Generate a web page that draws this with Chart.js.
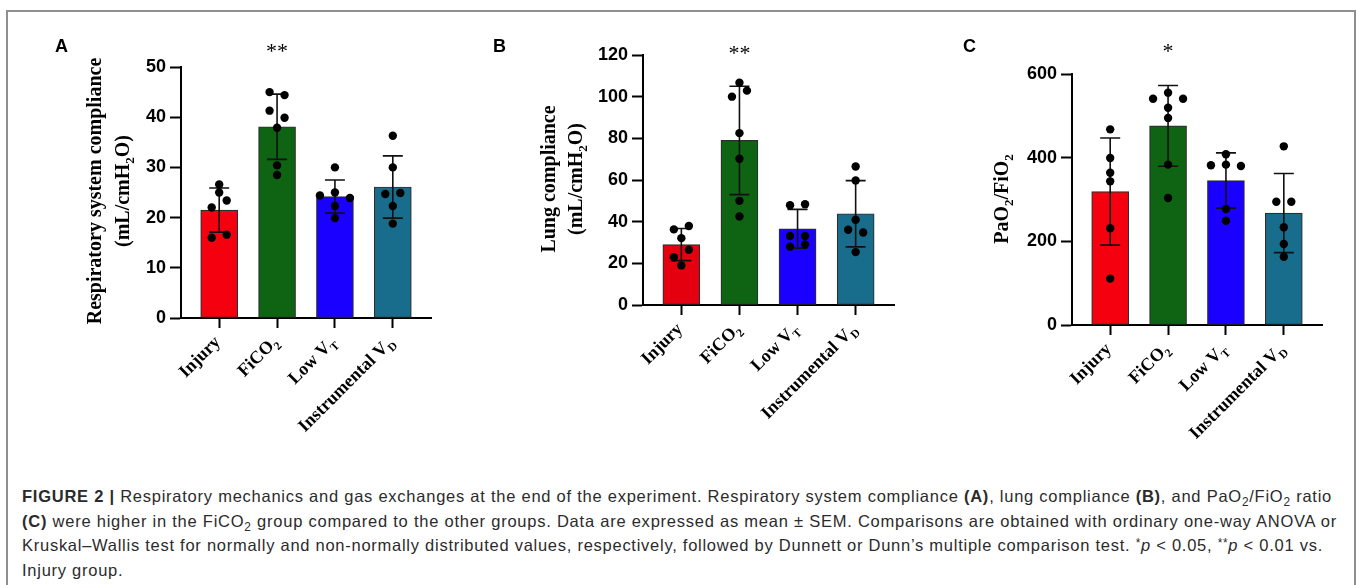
<!DOCTYPE html>
<html>
<head>
<meta charset="utf-8">
<script src="https://cdn.jsdelivr.net/npm/chart.js@4.4.1/dist/chart.umd.min.js"></script>
<style>
  body { margin: 0; background: #fff; width: 1357px; height: 585px; overflow: hidden; position: relative; }
  #frame { position: absolute; left: 6px; top: 10px; width: 1350px; height: 640px; border: 2px solid #8f8f8f; box-sizing: border-box; }
  canvas.panel { position: absolute; top: 0; }
  #caption { position: absolute; left: 22px; top: 484px; font: 16.5px 'Liberation Sans', Arial, sans-serif; color: #2b2b2b; line-height: 24.5px; }
  #caption .ln { white-space: nowrap; display: block; }
  #caption .ln span.fit { display: inline-block; }
  #caption sub { font-size: 0.72em; vertical-align: -0.3em; line-height: 0; }
  #caption sup { font-size: 0.72em; vertical-align: 0.35em; line-height: 0; }
</style>
</head>
<body>
<div id="frame"></div>
<canvas id="chartA" class="panel" width="460" height="450" style="left:0px"></canvas>
<canvas id="chartB" class="panel" width="460" height="450" style="left:460px"></canvas>
<canvas id="chartC" class="panel" width="437" height="450" style="left:920px"></canvas>

<div id="caption">
  <div class="ln"><span class="fit"><b>FIGURE 2 |</b> Respiratory mechanics and gas exchanges at the end of the experiment. Respiratory system compliance <b>(A)</b>, lung compliance <b>(B)</b>, and PaO<sub>2</sub>/FiO<sub>2</sub> ratio</span></div>
  <div class="ln"><span class="fit"><b>(C)</b> were higher in the FiCO<sub>2</sub> group compared to the other groups. Data are expressed as mean ± SEM. Comparisons are obtained with ordinary one-way ANOVA or</span></div>
  <div class="ln"><span class="fit">Kruskal–Wallis test for normally and non-normally distributed values, respectively, followed by Dunnett or Dunn’s multiple comparison test. <sup>*</sup><i>p</i> &lt; 0.05, <sup>**</sup><i>p</i> &lt; 0.01 vs.</span></div>
  <div class="ln"><span class="fit">Injury group.</span></div>
</div>

<script>
// groups, "_x" marks a subscript character
const categories = ['Injury', 'FiCO_2', 'Low V_T', 'Instrumental V_D'];

// A: respiratory system compliance (mL/cmH2O)
const rsMean = [21.5, 38.1, 24.2, 26.1];
const rsSd = [4.4, 6.5, 3.3, 6.2];
const rsPoints = [
  [26.6, 25.0, 23.4, 22.0, 16.6, 16.0],
  [44.4, 45.0, 39.9, 41.3, 37.9, 30.4, 28.5],
  [30.0, 25.0, 24.4, 23.9, 22.3, 19.9],
  [36.3, 30.0, 24.9, 24.7, 22.3, 18.8]
];
const rsTicks = [0, 10, 20, 30, 40, 50];
const rsStars = ['', '**', '', ''];

// B: lung compliance (mL/cmH2O)
const lungMean = [29.0, 79.0, 36.6, 43.8];
const lungSd = [7.7, 26.0, 9.3, 15.9];
const lungPoints = [
  [37.9, 36.3, 32.1, 26.5, 22.9, 19.0],
  [106.7, 102.9, 100.0, 82.5, 70.2, 50.0, 42.5],
  [48.4, 47.9, 33.1, 33.1, 29.1, 28.0],
  [66.5, 59.8, 40.9, 34.8, 36.1, 25.4]
];
const lungTicks = [0, 20, 40, 60, 80, 100, 120];
const lungStars = ['', '**', '', ''];

// C: PaO2/FiO2
const pfMean = [319, 476, 345.5, 267.5];
const pfSd = [128, 96.5, 66, 94.5];
const pfPoints = [
  [467.7, 399.2, 364.1, 343.4, 231.1, 110.8],
  [555.4, 541.0, 541.0, 519.5, 494.8, 383.3, 303.6],
  [408.0, 383.3, 381.7, 380.1, 277.3, 249.4],
  [427.1, 294.8, 294.8, 233.5, 193.6, 163.3]
];
const pfTicks = [0, 200, 400, 600];
const pfStars = ['', '*', '', ''];

const SERIF = "'Liberation Serif', 'Times New Roman', serif";
const SANS = "'Liberation Sans', Arial, sans-serif";
const groupColors = ['#f5000e', '#0e6413', '#1a00fe', '#196d8c'];
const DOT_STEP = 15;   // px between dots sharing a row
const ROW_GAP = 7.6;   // px, dots closer than this share a row

function parseRich(str) {
  const segs = [];
  str.split(/(_\w)/).forEach(p => {
    if (!p) return;
    if (p[0] === '_') segs.push({ t: p.slice(1), sub: true });
    else segs.push({ t: p, sub: false });
  });
  return segs;
}

function drawRich(ctx, str, x, y, size, align) {
  const segs = parseRich(str);
  const fontFor = s => `bold ${s.sub ? size * 0.65 : size}px ${SERIF}`;
  let w = 0;
  segs.forEach(s => { ctx.font = fontFor(s); s.w = ctx.measureText(s.t).width; w += s.w; });
  let cx = align === 'right' ? x - w : align === 'center' ? x - w / 2 : x;
  ctx.textAlign = 'left';
  segs.forEach(s => {
    ctx.font = fontFor(s);
    ctx.fillText(s.t, cx, y + (s.sub ? size * 0.26 : 0));
    cx += s.w;
  });
}

const errorBars = {
  id: 'errorBars',
  afterDatasetDraw(chart, args, opts) {
    if (args.index !== 0) return;
    const { ctx } = chart;
    const x = chart.scales.x, y = chart.scales.y;
    ctx.save();
    ctx.strokeStyle = '#111';
    ctx.lineWidth = 1.6;
    opts.mean.forEach((m, i) => {
      const px = x.getPixelForValue(i);
      const top = y.getPixelForValue(m + opts.sd[i]);
      const bot = y.getPixelForValue(m - opts.sd[i]);
      ctx.beginPath();
      ctx.moveTo(px, top); ctx.lineTo(px, bot);
      ctx.moveTo(px - 10, top); ctx.lineTo(px + 10, top);
      ctx.moveTo(px - 10, bot); ctx.lineTo(px + 10, bot);
      ctx.stroke();
    });
    ctx.restore();
  }
};

const panelText = {
  id: 'panelText',
  afterDraw(chart, args, opts) {
    const { ctx, chartArea } = chart;
    const x = chart.scales.x;
    ctx.save();
    ctx.fillStyle = '#000';
    ctx.textBaseline = 'alphabetic';

    // panel letter
    ctx.font = `bold 18px ${SANS}`;
    ctx.textAlign = 'left';
    ctx.fillText(opts.letter, opts.letterX, 52);

    // y title, rotated
    opts.title.forEach((line, i) => {
      ctx.save();
      ctx.translate(opts.titleX[i], opts.titleY);
      ctx.rotate(-Math.PI / 2);
      drawRich(ctx, line, 0, 0, 20, 'center');
      ctx.restore();
    });

    // category labels at 45 degrees
    categories.forEach((c, i) => {
      ctx.save();
      ctx.translate(x.getPixelForValue(i) + 2, chartArea.bottom + 25);
      ctx.rotate(-Math.PI / 4);
      drawRich(ctx, c, 0, 0, 18, 'right');
      ctx.restore();
    });

    // significance marks
    ctx.font = `22px ${SERIF}`;
    ctx.textAlign = 'center';
    opts.stars.forEach((s, i) => {
      if (s) ctx.fillText(s, x.getPixelForValue(i), opts.starY);
    });
    ctx.restore();
  }
};

function spreadPoints(chart, groups) {
  const ys = chart.scales.y, xs = chart.scales.x;
  const unitPx = xs.getPixelForValue(1) - xs.getPixelForValue(0);
  const data = [];
  groups.forEach((vals, ci) => {
    const sorted = vals.map((v, i) => ({ v, i })).sort((a, b) => b.v - a.v);
    const rows = [];
    sorted.forEach(p => {
      const row = rows[rows.length - 1];
      if (row && Math.abs(ys.getPixelForValue(row[0].v) - ys.getPixelForValue(p.v)) < ROW_GAP) row.push(p);
      else rows.push([p]);
    });
    rows.forEach(row => {
      row.sort((a, b) => a.i - b.i);
      const n = row.length;
      const slots = n === 1 ? [0] : n === 2 ? [0.5, -0.5] : n === 3 ? [0, -1, 1]
        : row.map((_, k) => k - (n - 1) / 2);
      row.forEach((p, k) => data.push({ x: ci + slots[k] * DOT_STEP / unitPx, y: p.v }));
    });
  });
  chart.data.datasets[1].data = data;
  chart.update('none');
}

function makePanel(p) {
  const canvas = document.getElementById(p.id);
  const W = canvas.width, H = canvas.height;
  const colors = groupColors.slice();
  if (p.firstColor) colors[0] = p.firstColor;
  const chart = new Chart(canvas, {
    type: 'bar',
    data: {
      datasets: [
        {
          type: 'bar',
          data: p.mean.map((m, i) => ({ x: i, y: m })),
          backgroundColor: colors,
          borderColor: '#2e2e2e',
          borderWidth: 1.2,
          borderSkipped: false,
          barThickness: 37,
          order: 2
        },
        {
          type: 'scatter',
          data: [],
          pointRadius: 4.2,
          pointBackgroundColor: '#000',
          pointBorderWidth: 0,
          clip: false,
          order: 1
        }
      ]
    },
    options: {
      responsive: false,
      animation: false,
      devicePixelRatio: 1,
      layout: { padding: { left: 0, top: p.area.top, right: W - p.area.right, bottom: 0 } },
      plugins: {
        legend: { display: false },
        tooltip: { enabled: false },
        errorBars: { mean: p.mean, sd: p.sd },
        panelText: p.text
      },
      scales: {
        x: {
          type: 'linear',
          min: -0.66,
          max: 3.66,
          offset: false,
          afterBuildTicks: s => { s.ticks = categories.map((c, i) => ({ value: i })); },
          afterFit: s => { s.height = H - p.area.bottom; },
          grid: { drawOnChartArea: false, drawTicks: true, tickLength: 10, tickWidth: 2, tickColor: '#000', offset: false },
          border: { display: true, color: '#000', width: 2 },
          ticks: { display: false }
        },
        y: {
          min: 0,
          max: p.ticks[p.ticks.length - 1],
          afterBuildTicks: s => { s.ticks = p.ticks.map(v => ({ value: v })); },
          afterFit: s => { s.width = p.area.left; },
          grid: { drawOnChartArea: false, tickLength: 11, tickWidth: 2, tickColor: '#000' },
          border: { display: true, color: '#000', width: 2 },
          ticks: { color: '#000', padding: 4, font: { family: SANS, weight: 'bold', size: 18 } }
        }
      }
    },
    plugins: [errorBars, panelText]
  });
  spreadPoints(chart, p.points);
  return chart;
}

makePanel({
  id: 'chartA', mean: rsMean, sd: rsSd, points: rsPoints, ticks: rsTicks,
  area: { left: 181, top: 67, right: 431, bottom: 318 },
  text: { letter: 'A', letterX: 55, title: ['Respiratory system compliance', '(mL/cmH_2O)'],
          titleX: [101, 129], titleY: 191, stars: rsStars, starY: 58 }
});
makePanel({
  id: 'chartB', mean: lungMean, sd: lungSd, points: lungPoints, ticks: lungTicks,
  area: { left: 183, top: 55, right: 434, bottom: 305 }, firstColor: '#e4000f',
  text: { letter: 'B', letterX: 33, title: ['Lung compliance', '(mL/cmH_2O)'],
          titleX: [95, 122], titleY: 179, stars: lungStars, starY: 60 }
});
makePanel({
  id: 'chartC', mean: pfMean, sd: pfSd, points: pfPoints, ticks: pfTicks,
  area: { left: 152, top: 74, right: 402, bottom: 325 },
  text: { letter: 'C', letterX: 43, title: ['PaO_2/FiO_2'],
          titleX: [88], titleY: 199, stars: pfStars, starY: 58 }
});

// caption lines stretched to the reference line widths
const captionWidths = [1310, 1315, 1301];
let lastSpacing = 0;
document.querySelectorAll('#caption .fit').forEach((el, i) => {
  const target = captionWidths[i];
  if (target) {
    const w = el.getBoundingClientRect().width;
    lastSpacing = (target - w) / el.textContent.length;
  }
  el.style.letterSpacing = lastSpacing + 'px';
});
</script>
</body>
</html>
